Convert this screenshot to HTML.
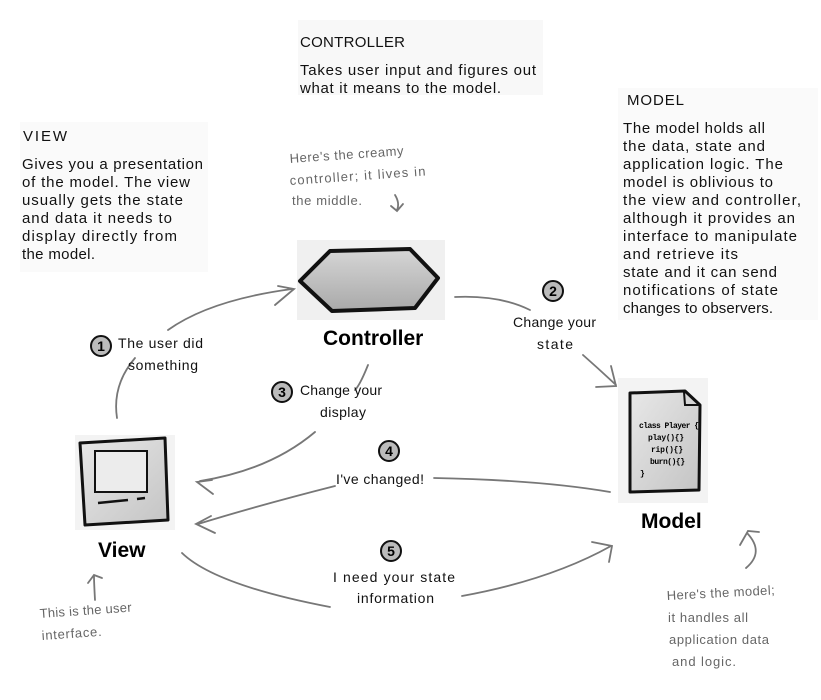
<!DOCTYPE html>
<html><head><meta charset="utf-8"><style>
html,body{margin:0;padding:0;background:#fff;}
svg{display:block;}
.t{font-family:"Liberation Sans",sans-serif;font-size:15px;fill:#111;}
.h{font-family:"Liberation Sans",sans-serif;font-size:13px;fill:#666;}
.lb{font-family:"Liberation Sans",sans-serif;font-size:14px;fill:#111;}
.big{font-family:"Liberation Sans",sans-serif;font-size:21px;font-weight:bold;fill:#000;}
.ar{fill:none;stroke:#777;stroke-width:1.8;stroke-linecap:round;}
.num{font-family:"Liberation Sans",sans-serif;font-size:14px;font-weight:bold;fill:#000;}
</style></head><body>
<svg width="821" height="700" viewBox="0 0 821 700" xmlns="http://www.w3.org/2000/svg">
<defs>
<linearGradient id="g1" x1="0" y1="0" x2="0" y2="1"><stop offset="0" stop-color="#d6d6d6"/><stop offset="1" stop-color="#a9a9a9"/></linearGradient>
<linearGradient id="g2" x1="0" y1="0" x2="1" y2="1"><stop offset="0" stop-color="#e8e8e8"/><stop offset="1" stop-color="#c4c4c4"/></linearGradient>
</defs>
<rect x="298" y="20" width="245" height="75" fill="#f8f8f8"/>
<text class="t" x="300" y="47" textLength="105">CONTROLLER</text>
<text class="t" x="300" y="75" textLength="236">Takes user input and figures out</text>
<text class="t" x="300" y="93" textLength="201">what it means to the model.</text>

<rect x="618" y="88" width="200" height="232" fill="#fafafa"/>
<text class="t" x="627" y="105" textLength="57">MODEL</text>
<g class="t">
<text x="623" y="133" textLength="142">The model holds all</text>
<text x="623" y="151" textLength="142">the data, state and</text>
<text x="623" y="169" textLength="160">application logic.  The</text>
<text x="623" y="187" textLength="150">model is oblivious to</text>
<text x="623" y="205" textLength="178">the view and controller,</text>
<text x="623" y="223" textLength="172">although it provides an</text>
<text x="623" y="241" textLength="174">interface to manipulate</text>
<text x="623" y="259" textLength="115">and retrieve its</text>
<text x="623" y="277" textLength="154">state and it can send</text>
<text x="623" y="295" textLength="155">notifications of state</text>
<text x="623" y="313" textLength="150">changes to observers.</text>
</g>

<rect x="20" y="122" width="188" height="150" fill="#fafafa"/>
<text class="t" x="23" y="141" textLength="44">VIEW</text>
<g class="t">
<text x="22" y="169" textLength="181">Gives you a presentation</text>
<text x="22" y="187" textLength="168">of the model. The view</text>
<text x="22" y="205" textLength="161">usually gets the state</text>
<text x="22" y="223" textLength="150">and data it needs to</text>
<text x="22" y="241" textLength="155">display directly from</text>
<text x="22" y="259" textLength="73">the model.</text>
</g>

<g class="h">
<text x="290" y="163" textLength="114" transform="rotate(-4 290 163)">Here's the creamy</text>
<text x="290" y="185" textLength="136" transform="rotate(-4 290 185)">controller; it lives in</text>
<text x="292" y="205" textLength="70">the middle.</text>
</g>
<path class="ar" d="M395 195 Q400 203 397 210 M391 206 L397 211 L403 204" stroke-width="1.4"/>

<rect x="297" y="240" width="148" height="80" fill="#f0f0f0"/>
<path d="M330 251 L410 249 L438 278 L415 308 L332 311 L300 281 Z" fill="url(#g1)" stroke="#111" stroke-width="4" stroke-linejoin="round"/>
<text class="big" x="323" y="345">Controller</text>

<rect x="618" y="378" width="90" height="125" fill="#f3f3f3"/>
<path d="M630 393 L685 391 L700 405 L699 490 L630 492 Z" fill="url(#g2)" stroke="#111" stroke-width="3" stroke-linejoin="round"/>
<path d="M684 392 L685 405 L699 405" fill="none" stroke="#111" stroke-width="2"/>
<g style="font-family:'Liberation Mono',monospace;font-size:8px;font-weight:bold;fill:#000">
<text x="639" y="428" textLength="60">class Player {</text>
<text x="648" y="440" textLength="36">play(){}</text>
<text x="651" y="452" textLength="32">rip(){}</text>
<text x="650" y="464" textLength="35">burn(){}</text>
<text x="640" y="476">}</text>
</g>
<text class="big" x="641" y="528">Model</text>

<rect x="75" y="435" width="100" height="95" fill="#f3f3f3"/>
<path d="M80 443 L165 438 L168 520 L85 525 Z" fill="url(#g2)" stroke="#111" stroke-width="3" stroke-linejoin="round"/>
<rect x="95" y="451" width="52" height="41" fill="#ececec" stroke="#111" stroke-width="2"/>
<path d="M98 503 L128 500 M137 499 L145 498" stroke="#111" stroke-width="2.5"/>
<text class="big" x="98" y="557">View</text>

<path class="ar" d="M117 418 Q112 385 135 358 M168 330 Q210 300 292 289 M275 305 L294 289 L278 286"/>
<path class="ar" d="M455 297 Q500 295 530 310 M583 355 Q600 370 616 385 M596 387 L616 386 L611 366"/>
<path class="ar" d="M368 365 Q360 385 355 390 M315 432 Q270 470 200 481 M213 494 L197 482 L212 480"/>
<path class="ar" d="M434 478 Q540 480 610 492 M335 486 Q260 505 198 524 M215 533 L196 524 L211 516"/>
<path class="ar" d="M182 553 Q215 585 330 607 M462 596 Q550 580 611 546 M592 542 L612 546 L609 562"/>
<path class="ar" d="M95 600 Q94 582 94 576 M88 583 L94 575 L102 578" stroke-width="1.4"/>
<path class="ar" d="M746 568 Q765 552 747 533 M740 545 L748 531 L759 532" stroke-width="1.6"/>

<g stroke="#111" stroke-width="2" fill="#bbb">
<circle cx="101" cy="346" r="10"/><circle cx="553" cy="291" r="10"/><circle cx="282" cy="392" r="10"/><circle cx="389" cy="451" r="10"/><circle cx="391" cy="551" r="10"/>
</g>
<g class="num" text-anchor="middle">
<text x="101" y="351">1</text><text x="553" y="296">2</text><text x="282" y="397">3</text><text x="389" y="456">4</text><text x="391" y="556">5</text>
</g>
<g class="lb">
<text x="118" y="348" textLength="85">The user did</text>
<text x="128" y="370" textLength="70">something</text>
<text x="513" y="327" textLength="83">Change your</text>
<text x="537" y="349" textLength="36">state</text>
<text x="300" y="395" textLength="82">Change your</text>
<text x="320" y="417" textLength="46">display</text>
<text x="336" y="484" textLength="88">I've changed!</text>
<text x="333" y="582" textLength="122">I need your state</text>
<text x="357" y="603" textLength="77">information</text>
</g>
<g class="h">
<text x="40" y="618" textLength="92" transform="rotate(-4 40 618)">This is the user</text>
<text x="42" y="640" textLength="60" transform="rotate(-4 42 640)">interface.</text>
<text x="667" y="600" textLength="108" transform="rotate(-3 667 600)">Here's the model;</text>
<text x="668" y="622" textLength="80">it handles all</text>
<text x="669" y="644" textLength="100">application data</text>
<text x="672" y="666" textLength="64">and logic.</text>
</g>
</svg>
</body></html>
